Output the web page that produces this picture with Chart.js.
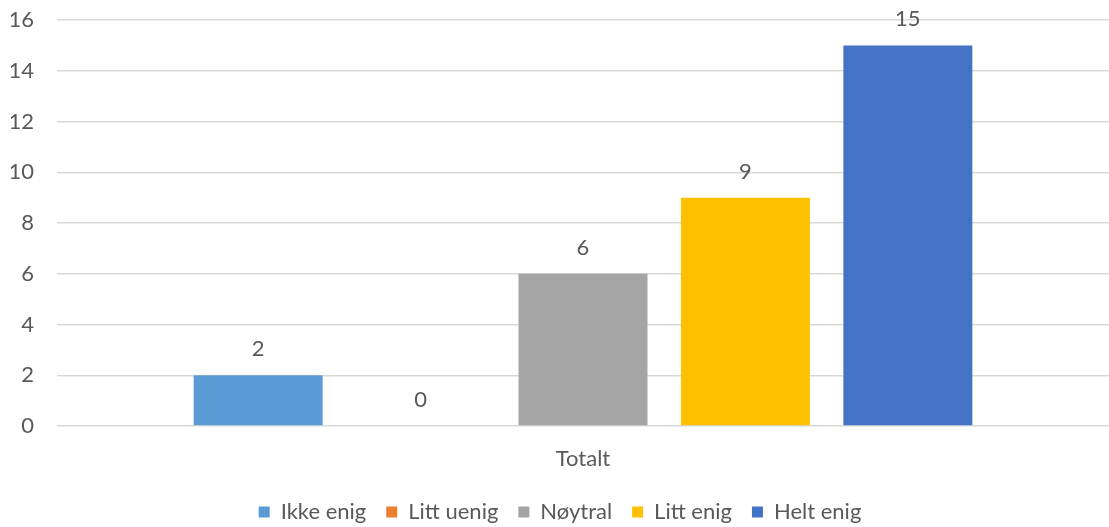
<!DOCTYPE html>
<html>
<head>
<meta charset="utf-8">
<script src="https://cdn.jsdelivr.net/npm/chart.js@4/dist/chart.umd.min.js"></script>
<style>
  html, body { margin: 0; padding: 0; background: #fff; }
  #wrap { width: 1109px; height: 527px; position: relative; }
</style>
</head>
<body>
<div id="wrap"><canvas id="chart"></canvas></div>
<script>
const categories = ['Totalt'];
const seriesNames = ['Ikke enig', 'Litt uenig', 'Nøytral', 'Litt enig', 'Helt enig'];
const seriesValues = [2, 0, 6, 9, 15];
const seriesColors = ['#5B9BD5', '#ED7D31', '#A5A5A5', '#FFC000', '#4472C4'];
const yTicks = [0, 2, 4, 6, 8, 10, 12, 14, 16];

const textColor = '#595959';
const fontFamily = 'Lato, "Open Sans", sans-serif';
const fontSize = 22;

// value labels above each bar
const valueLabels = {
  id: 'valueLabels',
  afterDatasetsDraw(chart) {
    const ctx = chart.ctx;
    ctx.save();
    ctx.fillStyle = textColor;
    ctx.font = fontSize + 'px ' + fontFamily;
    ctx.textAlign = 'center';
    ctx.textBaseline = 'middle';
    chart.data.datasets.forEach((ds, i) => {
      chart.getDatasetMeta(i).data.forEach((bar, j) => {
        ctx.fillText(String(ds.data[j]), bar.x, bar.y - 26);
      });
    });
    ctx.restore();
  }
};

new Chart(document.getElementById('chart'), {
  type: 'bar',
  data: {
    labels: categories,
    datasets: seriesNames.map((name, i) => ({
      label: name,
      data: [seriesValues[i]],
      backgroundColor: seriesColors[i],
      borderWidth: 0,
      categoryPercentage: 0.772,
      barPercentage: 0.794
    }))
  },
  options: {
    responsive: true,
    maintainAspectRatio: false,
    animation: false,
    layout: { padding: { left: 11, right: 0, top: 20, bottom: -6 } },
    plugins: {
      title: { display: false },
      tooltip: { enabled: false },
      legend: {
        position: 'bottom',
        labels: {
          color: textColor,
          boxWidth: 11,
          boxHeight: 11,
          padding: 20,
          font: { family: fontFamily, size: fontSize }
        }
      }
    },
    scales: {
      x: {
        grid: { display: false },
        border: { display: false },
        ticks: { color: textColor, font: { family: fontFamily, size: fontSize }, padding: 12 },
        afterFit: s => { s.height = 55; s.paddingLeft = 0; s.paddingRight = 0; }
      },
      y: {
        min: 0,
        max: 16,
        afterBuildTicks: axis => { axis.ticks = yTicks.map(v => ({ value: v })); },
        grid: { color: '#D9D9D9', lineWidth: 1.5, drawTicks: false },
        border: { display: false },
        ticks: { color: textColor, font: { family: fontFamily, size: fontSize }, padding: 23 },
        afterFit: s => { s.width = 46; s.paddingTop = 0; s.paddingBottom = 0; }
      }
    }
  },
  plugins: [valueLabels]
});
</script>
</body>
</html>
